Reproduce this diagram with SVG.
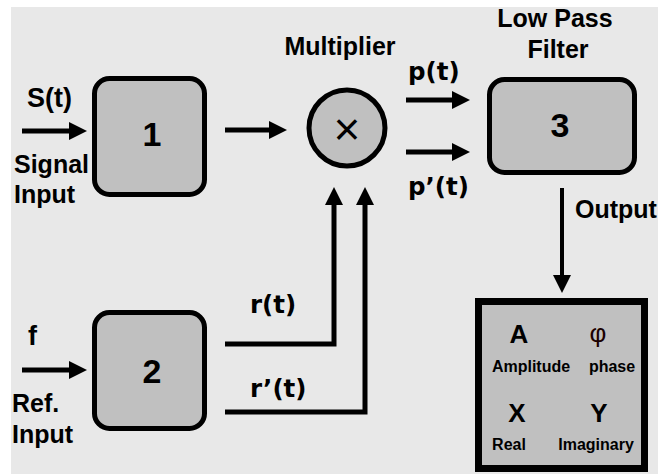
<svg xmlns="http://www.w3.org/2000/svg" width="658" height="474" viewBox="0 0 658 474">
<defs>
<style>
.t{font-family:"Liberation Sans",Arial,sans-serif;font-weight:bold;fill:#000}
.l{font-size:25px}
.s{font-family:"DejaVu Sans",Verdana,sans-serif;font-size:24.5px}
.n{font-size:34px;text-anchor:middle}
.o{font-size:16px;text-anchor:middle}
.b{font-size:26px;text-anchor:middle}
.box{fill:#c0c0c0;stroke:#000;stroke-width:5}
.w{fill:none;stroke:#000;stroke-width:5;stroke-linejoin:miter}
</style>
<marker id="ah" markerUnits="userSpaceOnUse" markerWidth="18" markerHeight="18" refX="8" refY="9" orient="auto">
<path d="M0,0 L18,9 L0,18 z" fill="#000"/>
</marker>
</defs>
<rect x="0" y="0" width="658" height="474" fill="#fff"/>
<rect x="11" y="7" width="647" height="467" fill="#e8e8e8"/>

<g id="connectors">
<line class="w" x1="22" y1="131" x2="77" y2="131" marker-end="url(#ah)"/>
<line class="w" x1="22" y1="370" x2="77" y2="370" marker-end="url(#ah)"/>
<line class="w" x1="225" y1="130" x2="277" y2="130" marker-end="url(#ah)"/>
<line class="w" x1="406" y1="100" x2="460" y2="100" marker-end="url(#ah)"/>
<line class="w" x1="406" y1="152" x2="460" y2="152" marker-end="url(#ah)"/>
<polyline class="w" points="225,344 334,344 334,197" marker-end="url(#ah)"/>
<polyline class="w" points="225,412 365,412 365,197" marker-end="url(#ah)"/>
<line class="w" style="stroke-width:4" x1="562" y1="188" x2="562" y2="283" marker-end="url(#ah)"/>
</g>

<g id="labels">
<text class="t" x="27" y="107" style="font-size:27px">S(t)</text>
<text class="t l" x="14" y="173">Signal</text>
<text class="t l" x="14" y="203">Input</text>
<text class="t" x="28" y="345" style="font-size:27px">f</text>
<text class="t l" x="12" y="412">Ref.</text>
<text class="t l" x="12" y="443">Input</text>
<text class="t s" x="250" y="313">r(t)</text>
<text class="t s" x="250" y="397">r’(t)</text>
<text class="t s" x="408" y="80">p(t)</text>
<text class="t s" x="408" y="195">p’(t)</text>
<text class="t l" x="575" y="218">Output</text>
</g>

<g id="box1">
<rect class="box" x="94.5" y="78.5" width="110" height="116" rx="15"/>
<text class="t n" x="152" y="146">1</text>
</g>

<g id="box2">
<rect class="box" x="94.5" y="312.5" width="110" height="116" rx="15"/>
<text class="t n" x="152" y="383">2</text>
</g>

<g id="multiplier">
<text class="t l" x="340" y="55" text-anchor="middle">Multiplier</text>
<circle class="box" cx="347" cy="128" r="38"/>
<text x="347" y="145" text-anchor="middle" style="font-family:'Liberation Sans',Arial,sans-serif;font-size:46px;fill:#000">×</text>
</g>

<g id="box3">
<text class="t l" x="555" y="27" text-anchor="middle">Low Pass</text>
<text class="t l" x="558" y="58" text-anchor="middle">Filter</text>
<rect class="box" x="489.5" y="79.5" width="145" height="93" rx="15"/>
<text class="t n" x="560" y="137">3</text>
</g>

<g id="output">
<rect x="478.5" y="301.5" width="166" height="167" fill="#c0c0c0" stroke="#000" stroke-width="7"/>
<text class="t b" x="519" y="343">A</text>
<text x="598" y="342" text-anchor="middle" style="font-family:'Liberation Sans',Arial,sans-serif;font-size:26px;fill:#1a0000">φ</text>
<text class="t o" x="531" y="372">Amplitude</text>
<text class="t o" x="612" y="372">phase</text>
<text class="t b" x="517" y="422">X</text>
<text class="t b" x="599" y="422">Y</text>
<text class="t o" x="509" y="450">Real</text>
<text class="t o" x="596" y="450">Imaginary</text>
</g>
</svg>
